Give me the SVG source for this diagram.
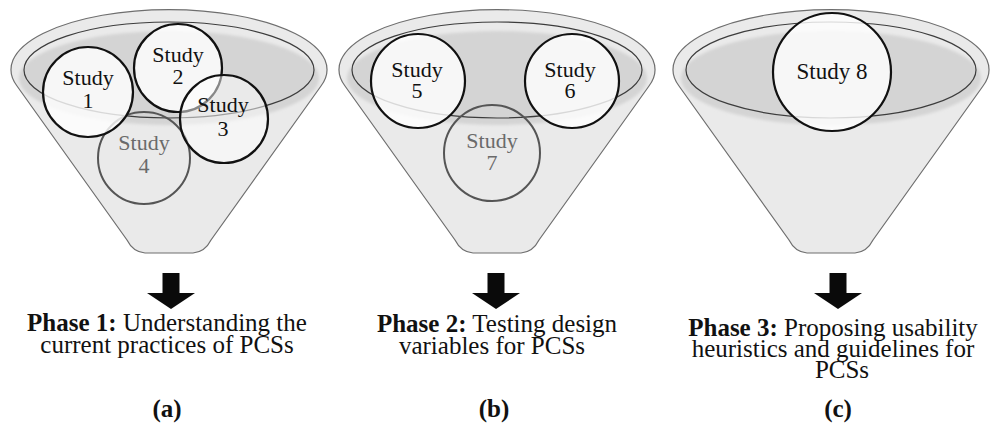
<svg xmlns="http://www.w3.org/2000/svg" width="992" height="427" viewBox="0 0 992 427">
  <style>
    .body { fill: #eaeaea; stroke: #6e6e6e; stroke-width: 1.2; }
    .shade { fill: #d4d4d4; filter: url(#soft); }
    .mouth { fill: none; stroke: #3c3c3c; stroke-width: 1.2; }
    .study { fill: #ffffff; fill-opacity: 0.8; stroke: #111; stroke-width: 2.2; }
    .study.dim { fill-opacity: 0.5; }
    .study.faint { fill: none; stroke: #555; stroke-width: 2; }
    .lbl { font-family: "Liberation Serif", "Times New Roman", serif; font-size: 22px; fill: #111; text-anchor: middle; }
    .lbl.grey { fill: #6a6a6a; }
    .phase { font-family: "Liberation Serif", "Times New Roman", serif; font-size: 25px; fill: #111; text-anchor: middle; }
    .tag { font-family: "Liberation Serif", "Times New Roman", serif; font-size: 25px; font-weight: bold; fill: #111; text-anchor: middle; }
    .arrow { fill: #0a0a0a; }
  </style>
  <defs>
    <filter id="soft" x="-10%" y="-20%" width="120%" height="140%">
      <feGaussianBlur stdDeviation="1.5"/>
    </filter>
    <!-- funnel outline centred on x = 0 -->
    <path id="funnel" d="M -152,86 A 158 60 0 1 1 152,86 L 42,240 Q 36,252 24,253 L -24,253 Q -36,252 -42,240 Z"/>
    <clipPath id="funnelClip"><use href="#funnel"/></clipPath>
    <g id="funnelArt">
      <use href="#funnel" class="body"/>
      <ellipse class="shade" cx="0" cy="78" rx="150" ry="47" clip-path="url(#funnelClip)"/>
      <ellipse class="mouth" cx="0" cy="70" rx="145" ry="48"/>
    </g>
    <path id="downArrow" d="M -8.5,273 L 8.5,273 L 8.5,293 L 24,293 L 0,309 L -24,293 L -8.5,293 Z"/>
  </defs>

  <!-- (a) Phase 1 funnel -->
  <g id="funnel-a">
    <use href="#funnelArt" x="169"/>
  </g>
  <g id="study-4">
    <circle class="study faint" cx="144" cy="158" r="46"/>
    <text class="lbl grey" x="144" y="150">Study</text>
    <text class="lbl grey" x="144" y="173">4</text>
  </g>
  <g id="study-1">
    <circle class="study" cx="88" cy="92" r="45"/>
    <text class="lbl" x="88" y="85">Study</text>
    <text class="lbl" x="88" y="108">1</text>
  </g>
  <g id="study-2">
    <circle class="study" cx="178" cy="68" r="44"/>
    <text class="lbl" x="178" y="62">Study</text>
    <text class="lbl" x="178" y="84">2</text>
  </g>
  <g id="study-3">
    <circle class="study dim" cx="224" cy="119" r="44"/>
    <text class="lbl" x="223" y="112">Study</text>
    <text class="lbl" x="223" y="136">3</text>
  </g>

  <!-- (b) Phase 2 funnel -->
  <g id="funnel-b">
    <use href="#funnelArt" x="497"/>
  </g>
  <g id="study-5">
    <circle class="study" cx="418" cy="81" r="47"/>
    <text class="lbl" x="417" y="77">Study</text>
    <text class="lbl" x="417" y="98">5</text>
  </g>
  <g id="study-6">
    <circle class="study" cx="572" cy="81" r="47"/>
    <text class="lbl" x="570" y="77">Study</text>
    <text class="lbl" x="570" y="98">6</text>
  </g>
  <g id="study-7">
    <circle class="study faint" cx="492" cy="153" r="48"/>
    <text class="lbl grey" x="492" y="148">Study</text>
    <text class="lbl grey" x="492" y="170">7</text>
  </g>

  <!-- (c) Phase 3 funnel -->
  <g id="funnel-c">
    <use href="#funnelArt" x="831"/>
  </g>
  <g id="study-8">
    <circle class="study" cx="832" cy="72" r="59"/>
    <text class="lbl" x="832" y="79" style="font-size:23px">Study 8</text>
  </g>

  <!-- block arrows from each funnel to its phase -->
  <g id="connectors">
    <use href="#downArrow" class="arrow" x="171"/>
    <use href="#downArrow" class="arrow" x="496"/>
    <use href="#downArrow" class="arrow" x="838"/>
  </g>

  <g id="phase-1">
    <text class="phase" x="167" y="331"><tspan font-weight="bold">Phase 1:</tspan> Understanding the</text>
    <text class="phase" x="167" y="353">current practices of PCSs</text>
    <text class="tag" x="167" y="417">(a)</text>
  </g>
  <g id="phase-2">
    <text class="phase" x="497" y="332"><tspan font-weight="bold">Phase 2:</tspan> Testing design</text>
    <text class="phase" x="492" y="354">variables for PCSs</text>
    <text class="tag" x="494" y="417">(b)</text>
  </g>
  <g id="phase-3">
    <text class="phase" x="833" y="336"><tspan font-weight="bold">Phase 3:</tspan> Proposing usability</text>
    <text class="phase" x="833" y="357">heuristics and guidelines for</text>
    <text class="phase" x="842" y="378">PCSs</text>
    <text class="tag" x="838" y="417">(c)</text>
  </g>
</svg>
